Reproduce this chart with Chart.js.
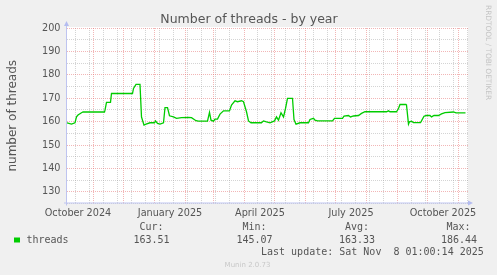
<!DOCTYPE html>
<html lang="en">
<head>
<meta charset="UTF-8">
<title>Number of threads - by year</title>
<script src="https://cdn.jsdelivr.net/npm/chart.js"></script>
<style>
  html, body { margin: 0; padding: 0; background: #f0f0f0; }
  canvas { display: block; }
</style>
</head>
<body>
<canvas id="chart" width="497" height="275"></canvas>
<script>
// x values are days counted from 1 October 2024
const days = [4.5, 9, 12.5, 14, 15.5, 19, 20.5, 42, 42.5, 44, 48, 49, 70, 71, 73.5, 77.5,
  79, 80, 81.5, 83.5, 87.5, 92, 93, 95, 97.5, 101, 102.5, 105, 107, 111, 114, 119,
  126, 129, 133.5, 136, 145, 147, 148.5, 151, 152.5, 155, 157.5, 161, 167, 169,
  172.5, 175, 179, 181, 184, 186, 188.5, 199, 201, 204, 207.5, 212, 214, 216,
  218.5, 221, 223, 225, 230, 231.5, 233.5, 237.5, 246, 247.5, 251, 252.5, 255,
  270, 272, 280, 281.5, 286, 288, 291, 296, 299, 302.5, 324, 326, 327.5, 334,
  336, 337.5, 343.5, 344, 346, 347, 349, 351, 358, 359, 361.5, 364, 367.5, 369,
  371.5, 376, 379, 382.5, 391, 393.5, 403];
const threads = [159.5, 158.9, 159.5, 162.0, 162.8, 163.8, 164.1, 164.1, 164.9, 168.2, 168.2, 172.0, 172.0, 174.2, 175.9, 175.9,
  162.0, 160.6, 158.5, 158.9, 159.5, 159.5, 160.3, 159.2, 158.9, 159.5, 166.0, 166.0, 162.5, 162.0, 161.4, 161.7,
  161.8, 161.7, 160.4, 160.2, 160.2, 163.9, 160.6, 160.2, 161.1, 161.1, 163.2, 164.6, 164.6, 167.1,
  168.9, 168.5, 168.9, 168.5, 164.2, 160.3, 159.5, 159.5, 160.3, 159.9, 159.5, 160.3, 162.0, 160.6,
  163.8, 162.0, 165.6, 169.9, 169.9, 160.9, 158.9, 159.5, 159.5, 160.9, 161.4, 160.6, 160.3,
  160.3, 161.4, 161.4, 162.3, 162.6, 162.0, 162.4, 162.6, 163.5, 164.2, 164.2, 164.6, 164.2, 164.2,
  165.6, 167.3, 167.3, 167.1, 158.9, 159.9, 160.2, 159.6, 159.6, 160.3, 162.3, 162.6, 162.6, 162.0,
  162.6, 162.6, 163.3, 163.8, 164.1, 163.7, 163.7];

const yTicks = [130, 140, 150, 160, 170, 180, 190, 200];
const xLabels = ['October 2024', 'January 2025', 'April 2025', 'July 2025', 'October 2025'];
const xLabelDays = [15.5, 107.5, 197.5, 288.5, 380.5];

const legendName = 'threads';
const statNames = ['Cur:', 'Min:', 'Avg:', 'Max:'];
const statValues = ['163.51', '145.07', '163.33', '186.44'];
const lastUpdate = 'Last update: Sat Nov  8 01:00:14 2025';

const X_MIN = 4.5, X_MAX = 405.5, Y_MIN = 125, Y_MAX = 200;
const RED = 'rgba(230, 110, 110, 0.5)';
const GRAY = 'rgba(160, 160, 160, 0.45)';
const TEXT = '#555';

// y grid: labelled lines every 10 (red), unlabelled halfway lines (gray)
const yTickValues = [];
for (let v = Y_MIN; v <= Y_MAX; v += 5) yTickValues.push(v);

// x grid: month starts (red), fortnightly lines (gray), label slots (no line)
const dayOf = (y, m) => (Date.UTC(y, m, 1) - Date.UTC(2024, 9, 1)) / 86400000;
const xTickType = new Map();
for (let i = 0; i < 14; i++) {
  const d = dayOf(2024, 9 + i);
  if (d >= X_MIN && d <= X_MAX) xTickType.set(d, 'major');
}
for (let d = 13; d <= X_MAX; d += 14) {
  let near = false;
  xTickType.forEach((t, v) => { if (Math.abs(v - d) < 1.5) near = true; });
  if (!near) xTickType.set(d, 'minor');
}
xLabelDays.forEach(d => xTickType.set(d, 'label'));
const xTickValues = [...xTickType.keys()].sort((a, b) => a - b);

const frame = {
  id: 'frame',
  beforeDraw(chart) {
    const {ctx, chartArea: a} = chart;
    ctx.save();
    ctx.fillStyle = '#f0f0f0';
    ctx.fillRect(0, 0, chart.width, chart.height);
    ctx.fillStyle = '#fff';
    ctx.fillRect(a.left, a.top - 1, a.right - a.left, a.bottom - a.top + 1);
    ctx.restore();
  },
  afterDraw(chart) {
    const {ctx, chartArea: a} = chart;
    ctx.save();
    // axes with arrows
    ctx.strokeStyle = 'rgb(190, 196, 240)';
    ctx.fillStyle = 'rgb(180, 188, 240)';
    ctx.lineWidth = 1;
    ctx.beginPath();
    ctx.moveTo(a.left - 0.5, a.bottom + 2);
    ctx.lineTo(a.left - 0.5, a.top - 3);
    ctx.moveTo(a.left - 3, a.bottom - 0.5);
    ctx.lineTo(a.right + 1, a.bottom - 0.5);
    ctx.stroke();
    ctx.beginPath();
    ctx.moveTo(a.left - 3, a.top - 2);
    ctx.lineTo(a.left + 2, a.top - 2);
    ctx.lineTo(a.left - 0.5, a.top - 7);
    ctx.closePath();
    ctx.fill();
    ctx.beginPath();
    ctx.moveTo(a.right, a.bottom - 3);
    ctx.lineTo(a.right, a.bottom + 2);
    ctx.lineTo(a.right + 5, a.bottom - 0.5);
    ctx.closePath();
    ctx.fill();

    // title
    ctx.fillStyle = TEXT;
    ctx.font = '12.5px "DejaVu Sans"';
    ctx.textAlign = 'center';
    ctx.textBaseline = 'alphabetic';
    ctx.fillText('Number of threads - by year', 249, 22.5);

    // y axis title
    ctx.save();
    ctx.translate(15.5, (a.top + a.bottom) / 2);
    ctx.rotate(-Math.PI / 2);
    ctx.font = '12px "DejaVu Sans"';
    ctx.fillText('number of threads', 0, 0);
    ctx.restore();

    // rrdtool watermark
    ctx.save();
    ctx.translate(486, 5);
    ctx.rotate(Math.PI / 2);
    ctx.textAlign = 'left';
    ctx.fillStyle = '#c4c4c4';
    ctx.font = '7.4px "DejaVu Sans"';
    ctx.fillText('RRDTOOL / TOBI OETIKER', 0, 0);
    ctx.restore();

    // legend
    ctx.fillStyle = '#00cc00';
    ctx.fillRect(14, 237.5, 6, 5);
    ctx.fillStyle = TEXT;
    ctx.font = '10px "DejaVu Sans Mono"';
    ctx.textAlign = 'left';
    ctx.fillText(legendName, 26.5, 243.3);
    const nameX = [139.5, 242.5, 345, 446.5];
    const valX = [133.5, 236.5, 339, 441];
    statNames.forEach((s, i) => ctx.fillText(s, nameX[i], 230));
    statValues.forEach((s, i) => ctx.fillText(s, valX[i], 243.3));
    ctx.fillText(lastUpdate, 261, 255);

    ctx.fillStyle = '#c8c8c8';
    ctx.font = '7px "DejaVu Sans"';
    ctx.textAlign = 'center';
    ctx.fillText('Munin 2.0.73', 247.5, 266.5);
    ctx.restore();
  }
};

new Chart(document.getElementById('chart'), {
  type: 'line',
  data: {
    datasets: [{
      label: legendName,
      data: days.map((d, i) => ({x: d, y: threads[i]})),
      borderColor: '#00cc00',
      borderWidth: 1.3,
      pointRadius: 0,
      tension: 0,
      fill: false
    }]
  },
  options: {
    responsive: false,
    animation: false,
    layout: { padding: { top: 28, right: 29, bottom: 0, left: 0 } },
    plugins: { legend: { display: false }, tooltip: { enabled: false } },
    scales: {
      x: {
        type: 'linear',
        min: X_MIN,
        max: X_MAX,
        afterFit: s => { s.height = 71.5; },
        afterBuildTicks: s => { s.ticks = xTickValues.map(v => ({value: v})); },
        ticks: {
          autoSkip: false,
          maxRotation: 0,
          padding: 4,
          color: TEXT,
          font: { family: 'DejaVu Sans', size: 9.7 },
          callback: v => {
            const i = xLabelDays.indexOf(v);
            return i >= 0 ? xLabels[i] : '';
          }
        },
        grid: {
          drawTicks: false,
          lineWidth: 1,
          color: c => {
            const t = c.tick && xTickType.get(c.tick.value);
            return t === 'major' ? RED : t === 'minor' ? GRAY : 'rgba(0,0,0,0)';
          }
        },
        border: { display: false, dash: [1, 1] }
      },
      y: {
        min: Y_MIN,
        max: Y_MAX,
        afterFit: s => { s.width = 67; },
        afterBuildTicks: s => { s.ticks = yTickValues.map(v => ({value: v})); },
        ticks: {
          autoSkip: false,
          padding: 6.5,
          color: TEXT,
          font: { family: 'DejaVu Sans', size: 9.7 },
          callback: v => (yTicks.includes(v) ? String(v) : '')
        },
        grid: {
          drawTicks: false,
          lineWidth: 1,
          color: c => (c.tick && yTicks.includes(c.tick.value) ? RED : GRAY)
        },
        border: { display: false, dash: [1, 1] }
      }
    }
  },
  plugins: [frame]
});
</script>
</body>
</html>
